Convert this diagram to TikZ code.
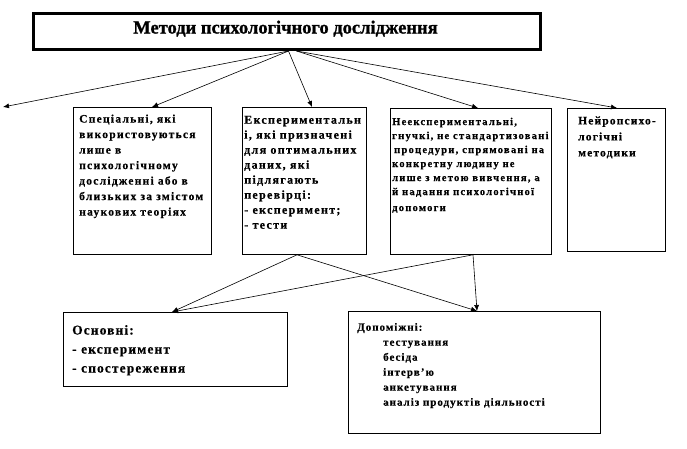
\documentclass[tikz,border=0pt]{standalone}
\usepackage{fontspec}
\setmainfont{Liberation Serif}
\newfontfamily\bx{Liberation Serif Bold}[FakeBold=0.4]
\newcommand{\ls}[1]{\addfontfeature{LetterSpace=#1}}
\usetikzlibrary{arrows.meta,calc}
\begin{document}
\begin{tikzpicture}[x=1pt,y=-1pt,
  box/.style={draw,line width=0.8pt,anchor=north west,inner sep=0pt},
  txt/.style={anchor=north west,inner sep=0pt,align=left},
  arr/.style={line width=0.6pt,-{Latex[length=6pt,width=5pt]}}]
\useasboundingbox[fill=white] (0,0) rectangle (687,448);

% title
\node[box,line width=3pt,minimum width=507pt,minimum height=36pt] (title) at (32,12) {};
\node[anchor=base,inner sep=0pt,font=\bx\fontsize{18.5}{20}\selectfont\addfontfeature{FakeBold=1.2}] (ttext) at (285.5,33.5) {Методи психологічного дослідження};

% upper boxes
\node[box,minimum width=138pt,minimum height=147pt] (b1) at (73,107) {};
\node[box,minimum width=124pt,minimum height=147pt] (b2) at (242,107) {};
\node[box,minimum width=161pt,minimum height=146pt] (b3) at (390,108) {};
\node[box,minimum width=98pt,minimum height=143pt] (b4) at (567,108) {};

\node[txt,font=\bx\fontsize{11.5}{15.5}\selectfont\ls{11}] (t1) at (79,111.5) {\strut Спеціальні, які\\використовуються\\лише в\\психологічному\\дослідженні або в\\близьких за змістом\\наукових теоріях};
\node[txt,font=\bx\fontsize{12}{15}\selectfont\ls{11}] (t2) at (244,113) {\strut Експериментальн\\і, які призначені\\для оптимальних\\даних, які\\підлягають\\перевірці:\\- експеримент;\\- тести};
\node[txt,font=\bx\fontsize{10.5}{14}\selectfont\ls{12}] (t3) at (392,115) {\strut Неекспериментальні,\\гнучкі, не стандартизовані\\\hspace*{2pt}процедури, спрямовані на\\конкретну людину не\\лише з метою вивчення, а\\й надання психологічної\\[2pt]допомоги};
\node[txt,font=\bx\fontsize{11.5}{16}\selectfont\ls{10}] (t4) at (578,113) {\strut Нейропсихо-\\логічні\\методики};

% lower boxes
\node[box,minimum width=224pt,minimum height=74pt] (osn) at (63,312) {};
\node[box,minimum width=252pt,minimum height=122pt] (dop) at (348,311) {};

\node[txt,font=\bx\fontsize{13.5}{19}\selectfont\ls{8}] (t5) at (72,321) {\strut Основні:\\- експеримент\\- спостереження};
\node[txt,font=\bx\fontsize{11}{15}\selectfont\ls{9}] (t6) at (357,320) {\strut Допоміжні:\\\hspace*{26pt}тестування\\\hspace*{26pt}бесіда\\\hspace*{26pt}інтерв’ю\\\hspace*{26pt}анкетування\\\hspace*{26pt}аналіз продуктів діяльності};

% connectors from title
\coordinate (o1) at ($(title.south)+(1.5,0)$);
\coordinate (o2) at ($(title.south)+(9.5,0)$);
\coordinate (lt) at (3,107);
\draw[arr] (o1) -- (lt);
\draw[arr] (o1) -- ($(b1.north west)+(79,0)$);
\draw[arr] (o1) -- ($(b2.north west)+(70,0)$);
\draw[arr] (o2) -- ($(b3.north west)+(88,0)$);
\draw[arr] (o2) -- ($(b4.north west)+(50,0)$);

% lower connectors
\coordinate (a2) at ($(b2.south west)+(55,0)$);
\coordinate (a3) at ($(b3.south west)+(83,0)$);
\draw[arr] (a2) -- ($(osn.north west)+(109,0)$);
\draw[arr] (a3) -- ($(osn.north west)+(109,0)$);
\draw[arr] (a2) -- ($(dop.north west)+(129,0)$);
\draw[arr] (a3) -- ($(dop.north west)+(129,0)$);
\end{tikzpicture}
\end{document}
